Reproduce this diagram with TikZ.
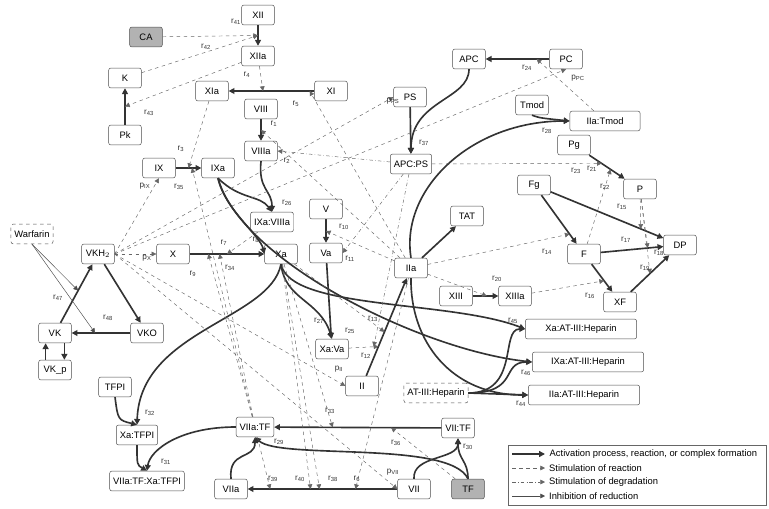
\documentclass[tikz,border=0pt]{standalone}
\usepackage{fontspec}
\setmainfont{Liberation Sans}
\usetikzlibrary{arrows.meta}
\newcommand{\rl}[1]{r\textsubscript{#1}}
\tikzset{
  box/.style={draw=black!70,rounded corners=2pt,minimum height=17pt,minimum width=28pt,inner xsep=3pt,font=\footnotesize,fill=white},
  gbox/.style={box,fill=black!30},
  dbox/.style={box,dashed},
  act/.style={draw=black!80,line width=1.4pt,-{Triangle[length=5pt,width=5pt]}},
  stim/.style={draw=black!60,dashed,thin,-{Triangle[length=4pt,width=4pt]}},
  degr/.style={draw=black!60,dash dot,thin,-{Triangle[length=4pt,width=4pt]}},
  inh/.style={draw=black!70,thin,-{Triangle[length=4pt,width=4pt]}},
  lab/.style={font=\scriptsize,text=black!80,inner sep=1pt}
}
\begin{document}
\begin{tikzpicture}[x=0.03cm,y=-0.03cm]
\useasboundingbox (0,0) rectangle (769,508);
% species
\node[box] (XII) at (258,15) {XII};
\node[gbox] (CA) at (146,37) {CA};
\node[box] (XIIa) at (258,56) {XIIa};
\node[box] (K) at (125,78) {K};
\node[box] (XIa) at (212,91) {XIa};
\node[box] (XI) at (331,91) {XI};
\node[box] (VIII) at (261,109) {VIII};
\node[box] (Pk) at (125,135) {Pk};
\node[box] (VIIIa) at (261,151) {VIIIa};
\node[box] (IX) at (159,168) {IX};
\node[box] (IXa) at (218,168) {IXa};
\node[box] (IXaVIIIa) at (272,222) {IXa:VIIIa};
\node[box] (V) at (326,209) {V};
\node[box] (Va) at (326,253) {Va};
\node[dbox] (War) at (32,234) {Warfarin};
\node[box] (VKH) at (98,254) {VKH$_2$};
\node[box] (X) at (173,254) {X};
\node[box] (Xa) at (281,254) {Xa};
\node[box] (VK) at (55,333) {VK};
\node[box] (VKO) at (147,333) {VKO};
\node[box] (VKp) at (55,370) {VK\_p};
\node[box] (TFPI) at (115,387) {TFPI};
\node[box] (XaTFPI) at (137,435) {Xa:TFPI};
\node[box] (VIIaTFXa) at (147,481) {VIIa:TF:Xa:TFPI};
\node[box] (VIIaTF) at (255,427) {VIIa:TF};
\node[box] (VIIa) at (231,489) {VIIa};
\node[box] (VII) at (414,489) {VII};
\node[gbox] (TF) at (468,489) {TF};
\node[box] (VIITF) at (458,428) {VII:TF};
\node[box] (II) at (362,386) {II};
\node[box] (XaVa) at (332,349) {Xa:Va};
\node[dbox] (AT) at (436,393) {AT-III:Heparin};
\node[box,minimum width=95pt] (XaAT) at (581,329) {Xa:AT-III:Heparin};
\node[box,minimum width=95pt] (IXaAT) at (588,362) {IXa:AT-III:Heparin};
\node[box,minimum width=95pt] (IIaAT) at (584,395) {IIa:AT-III:Heparin};
\node[box] (IIa) at (411,268) {IIa};
\node[box] (XIII) at (456,296) {XIII};
\node[box] (XIIIa) at (515,296) {XIIIa};
\node[box] (XF) at (620,302) {XF};
\node[box] (F) at (584,254) {F};
\node[box] (DP) at (680,245) {DP};
\node[box] (Fg) at (534,185) {Fg};
\node[box] (P) at (640,189) {P};
\node[box] (Pg) at (574,145) {Pg};
\node[box] (TAT) at (467,216) {TAT};
\node[box] (APCPS) at (411,164) {APC:PS};
\node[box] (PS) at (410,97) {PS};
\node[box] (APC) at (469,59) {APC};
\node[box] (PC) at (566,59) {PC};
\node[box] (Tmod) at (532,105) {Tmod};
\node[box,minimum width=60pt] (IIaTmod) at (605,121) {IIa:Tmod};
% reactions
\draw[act] (XII) -- coordinate (r41) (XIIa);
\draw[act] (XI) -- coordinate[pos=.6] (r4) (XIa);
\draw[act] (Pk) -- coordinate (r43) (K);
\draw[act] (VIII) -- coordinate (r1) (VIIIa);
\draw[act] (IX) -- coordinate (r3) (IXa);
\draw[act] (X) -- coordinate[pos=.5] (r7) coordinate[pos=.25] (r9) coordinate[pos=.4] (r34) (Xa);
\draw[act] (V) -- coordinate (r10) (Va);
\draw[act] (PC) -- coordinate[pos=.2] (r24) (APC);
\draw[act] (APC.south) .. controls (469,100) and (411,100) .. (APCPS.north);
\draw[act] (PS) -- (APCPS);
\draw[act] (Tmod.south) .. controls (540,118) .. (IIaTmod.west);
\draw[act] (IIa.north) .. controls (400,190) and (470,121) .. (IIaTmod.west);
\draw[act] (IIa) -- (TAT);
\draw[act] (Pg) -- coordinate[pos=.35] (r23) coordinate[pos=.6] (r21) (P);
\draw[act] (Fg) -- coordinate[pos=.8] (r14) (F);
\draw[act] (Fg) -- coordinate[pos=.8] (r17) (DP);
\draw[act] (F) -- coordinate[pos=.75] (r18) (DP);
\draw[act] (F) -- coordinate[pos=.6] (r16) (XF);
\draw[act] (XF) -- coordinate[pos=.5] (r19) (DP);
\draw[act] (XIII) -- coordinate[pos=.55] (r20) (XIIIa);
\draw[act] (II) -- coordinate[pos=.3] (r12) coordinate[pos=.45] (r13) (IIa);
\draw[act] (Va) -- (XaVa);
\draw[act] (Xa.south) .. controls (285,300) and (320,300) .. (XaVa.north);
\draw[act] (IXa.south) .. controls (240,200) and (260,195) .. (IXaVIIIa.north);
\draw[act] (VIIIa.south) .. controls (258,190) and (272,190) .. (IXaVIIIa.north);
\draw[act] (IXa.south) .. controls (225,210) and (260,235) .. (Xa.west);
\draw[act] (Xa.south) .. controls (290,310) and (450,300) .. (XaAT.west);
\draw[act] (IXa.south) .. controls (240,260) and (420,350) .. (IXaAT.west);
\draw[act] (IIa.south) .. controls (410,340) and (450,395) .. (IIaAT.west);
\draw[act] (AT.east) .. controls (520,393) and (500,329) .. (XaAT.west);
\draw[act] (AT.east) .. controls (520,393) and (500,362) .. (IXaAT.west);
\draw[act] (AT.east) -- (IIaAT.west);
\draw[act] (Xa.south) .. controls (270,320) and (140,330) .. (XaTFPI.north);
\draw[act] (TFPI.south) .. controls (118,420) .. (XaTFPI.north);
\draw[act] (XaTFPI.south) .. controls (137,465) .. (VIIaTFXa.north);
\draw[act] (VIIaTF.west) .. controls (180,427) and (150,450) .. (VIIaTFXa.north);
\draw[act] (VII) -- coordinate[pos=.28] (r6) coordinate[pos=.52] (r38) coordinate[pos=.58] (r40) coordinate[pos=.85] (r39) (VIIa);
\draw[act] (VIITF) -- coordinate[pos=.3] (r36) coordinate[pos=.65] (r33) (VIIaTF);
\draw[act] (VII.north) .. controls (412,455) and (458,460) .. (VIITF.south);
\draw[act] (TF.north) .. controls (468,460) and (458,460) .. (VIITF.south);
\draw[act] (VIIa.north) .. controls (228,450) and (255,460) .. (VIIaTF.south);
\draw[act] (TF.north) .. controls (450,440) and (280,460) .. (VIIaTF.south);
\draw[act] (VK) -- (VKH);
\draw[act] (VKH) -- (VKO);
\draw[act] (VKO) -- coordinate[pos=.6] (r48) (VK);
\draw[act] ([xshift=-8pt]VKp.north) -- ([xshift=-8pt]VK.south);
\draw[act] ([xshift=8pt]VK.south) -- ([xshift=8pt]VKp.north);
\path (VK) -- coordinate[pos=.55] (r47) (VKH);
% stimulation
\draw[stim] (CA) -- (r41);
\draw[stim] (K) -- (r41);
\draw[stim] (XIIa) -- (r43);
\draw[stim] (XIIa) -- (r4);
\draw[stim] (XIa) -- (r3);
\draw[stim] (IIa) -- ([xshift=-4pt]r4 -| XI.west);
\draw[stim] (IIa) -- (r1);
\draw[stim] (IXaVIIIa) -- (r7);
\draw[stim] (VIIaTF) -- (r9);
\draw[stim] (VIIaTF) -- (r34);
\draw[stim] (VIIaTF) -- ([xshift=3pt]r3);
\draw[stim] (IIa) -- (r10);
\draw[stim] (XaVa) -- (r12);
\draw[stim] (Xa) -- (r13);
\draw[stim] (IIa) -- (r14);
\draw[stim] (IIa) -- (r20);
\draw[stim] (XIIIa) -- (r16);
\draw[stim] (P) -- (r17);
\draw[stim] (P) -- (r18);
\draw[stim] (P) -- (r19);
\draw[stim] (APCPS) -- (r23);
\draw[stim] (F) -- (r21);
\draw[stim] (IIaTmod) -- (r24);
\draw[stim] (Xa) -- (r33);
\draw[stim] (TF) -- (r36);
\draw[stim] (Xa) -- (r40);
\draw[stim] (Xa) -- (r38);
\draw[stim] (IIa) -- (r6);
\draw[stim] (VIIaTF) -- (r39);
\draw[stim] (VKH.east) -- (IX.south);
\draw[stim] (VKH.east) -- (X.west);
\draw[stim] (VKH.east) -- (II.west);
\draw[stim] (VKH.east) -- (VII.west);
\draw[stim] (VKH.east) -- (PS.west);
\draw[stim] (VKH.east) -- (PC.south);
% degradation
\draw[degr] (APCPS) -- (VIIIa.east);
\draw[degr] (APCPS) -- (Va.east);
\draw[degr] (APCPS) -- ([xshift=-4pt]r12);
% inhibition
\draw[inh] (War.south) -- (r47);
\draw[inh] (War.south) -- (r48);
% labels
\node[lab] at (236,22) {\rl{41}};
\node[lab] at (206,47) {\rl{42}};
\node[lab] at (149,113) {\rl{43}};
\node[lab] at (247,75) {\rl{4}};
\node[lab] at (296,104) {\rl{5}};
\node[lab] at (274,124) {\rl{1}};
\node[lab] at (287,161) {\rl{2}};
\node[lab] at (181,149) {\rl{3}};
\node[lab] at (179,187) {\rl{35}};
\node[lab] at (145,186) {p\textsubscript{IX}};
\node[lab] at (287,203) {\rl{26}};
\node[lab] at (344,227) {\rl{10}};
\node[lab] at (350,259) {\rl{11}};
\node[lab] at (224,243) {\rl{7}};
\node[lab] at (256,240) {\rl{8}};
\node[lab] at (193,274) {\rl{9}};
\node[lab] at (230,268) {\rl{34}};
\node[lab] at (147,258) {p\textsubscript{X}};
\node[lab] at (319,321) {\rl{27}};
\node[lab] at (373,319) {\rl{13}};
\node[lab] at (350,331) {\rl{25}};
\node[lab] at (366,356) {\rl{12}};
\node[lab] at (339,369) {p\textsubscript{II}};
\node[lab] at (58,298) {\rl{47}};
\node[lab] at (108,318) {\rl{48}};
\node[lab] at (150,413) {\rl{32}};
\node[lab] at (166,462) {\rl{31}};
\node[lab] at (330,411) {\rl{33}};
\node[lab] at (279,442) {\rl{29}};
\node[lab] at (396,443) {\rl{36}};
\node[lab] at (468,447) {\rl{30}};
\node[lab] at (273,479) {\rl{39}};
\node[lab] at (300,479) {\rl{40}};
\node[lab] at (333,479) {\rl{38}};
\node[lab] at (357,479) {\rl{6}};
\node[lab] at (393,472) {p\textsubscript{VII}};
\node[lab] at (393,101) {p\textsubscript{PS}};
\node[lab] at (424,143) {\rl{37}};
\node[lab] at (527,68) {\rl{24}};
\node[lab] at (578,78) {p\textsubscript{PC}};
\node[lab] at (547,131) {\rl{28}};
\node[lab] at (576,171) {\rl{23}};
\node[lab] at (592,169) {\rl{21}};
\node[lab] at (605,187) {\rl{22}};
\node[lab] at (622,207) {\rl{15}};
\node[lab] at (626,240) {\rl{17}};
\node[lab] at (659,253) {\rl{18}};
\node[lab] at (645,268) {\rl{19}};
\node[lab] at (547,252) {\rl{14}};
\node[lab] at (590,296) {\rl{16}};
\node[lab] at (497,279) {\rl{20}};
\node[lab] at (513,321) {\rl{45}};
\node[lab] at (526,373) {\rl{46}};
\node[lab] at (521,404) {\rl{44}};
% legend
\draw[black!60] (508,445) rectangle (766,505);
\coordinate (l1a) at (512,454); \coordinate (l1b) at (545,454);
\coordinate (l2a) at (512,468); \coordinate (l2b) at (545,468);
\coordinate (l3a) at (512,482); \coordinate (l3b) at (545,482);
\coordinate (l4a) at (512,496); \coordinate (l4b) at (545,496);
\draw[act] (l1a) -- (l1b) node[right,font=\footnotesize,text=black] {Activation process, reaction, or complex formation};
\draw[stim] (l2a) -- (l2b) node[right,font=\footnotesize,text=black] {Stimulation of reaction};
\draw[degr] (l3a) -- (l3b) node[right,font=\footnotesize,text=black] {Stimulation of degradation};
\draw[inh] (l4a) -- (l4b) node[right,font=\footnotesize,text=black] {Inhibition of reduction};
\end{tikzpicture}
\end{document}
